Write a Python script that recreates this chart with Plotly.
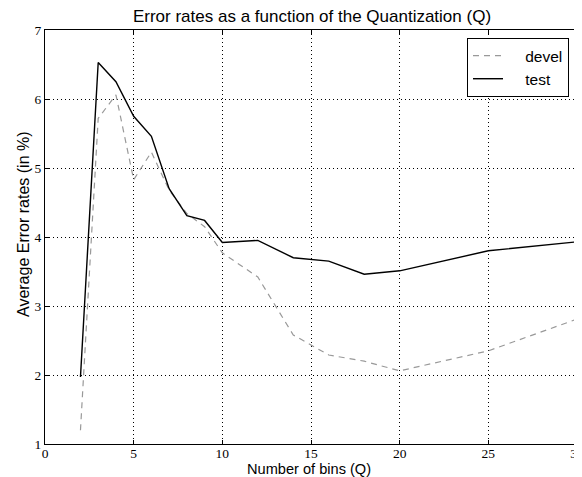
import plotly.graph_objects as go

bins = [2, 3, 4, 5, 6, 7, 8, 9, 10, 12, 14, 16, 18, 20, 25, 30]
devel = [1.2, 5.72, 6.06, 4.83, 5.23, 4.68, 4.34, 4.15, 3.77, 3.42, 2.58, 2.29, 2.20, 2.06, 2.35, 2.81]
test = [1.97, 6.53, 6.25, 5.75, 5.46, 4.70, 4.31, 4.24, 3.92, 3.95, 3.70, 3.65, 3.46, 3.51, 3.80, 3.93]

x_ticks = [0, 5, 10, 15, 20, 25, 30]
y_ticks = [1, 2, 3, 4, 5, 6, 7]
series_names = ["devel", "test"]

SANS = "Liberation Sans, Arial, Helvetica, sans-serif"
SERIF = "Liberation Serif, Times New Roman, serif"
GAP = "\u00a0" * 4  # extra room between legend line sample and its label

fig = go.Figure()
fig.add_trace(go.Scatter(x=bins, y=devel, mode="lines", name=GAP + series_names[0],
                         line=dict(color="#999999", width=1.2, dash="6px,5px")))
fig.add_trace(go.Scatter(x=bins, y=test, mode="lines", name=GAP + series_names[1],
                         line=dict(color="black", width=1.4)))

axis_common = dict(
    showline=True, linecolor="black", linewidth=1.3, mirror="ticks",
    ticks="inside", ticklen=4, tickcolor="black", tickwidth=1,
    showgrid=True, gridcolor="black", griddash="1px,3px", gridwidth=1,
    zeroline=False, automargin=False, ticklabeloverflow="allow",
    tickfont=dict(family=SERIF, size=13.5, color="black"),
)

# The page body has an 8px margin, so the figure is offset by (8, 8);
# size and margins are set so the plot area lands where the reference has it.
fig.update_layout(
    width=574, height=469,
    margin=dict(l=37, r=5, t=22, b=33, autoexpand=False),
    paper_bgcolor="white", plot_bgcolor="white",
    title=dict(text="Error rates as a function of the Quantization (Q)",
               x=(312 - 8) / 574, xanchor="center",
               y=1 - (16 - 8) / 469, yanchor="middle",
               font=dict(family=SANS, size=17, color="black")),
    xaxis=dict(range=[0, 30], tickvals=x_ticks, ticklabelstandoff=-3, **axis_common),
    yaxis=dict(range=[1, 7], tickvals=y_ticks, **axis_common),
    legend=dict(x=(569 - 45) / 532, y=(444 - 38) / 414, xanchor="right", yanchor="top",
                bgcolor="white", bordercolor="black", borderwidth=1,
                font=dict(family=SANS, size=15.5, color="black"),
                itemwidth=30, tracegroupgap=0),
    showlegend=True,
    annotations=[
        dict(text="Number of bins (Q)", xref="paper", yref="paper",
             x=(309 - 45) / 532, y=(444 - 469) / 414, xanchor="center", yanchor="middle",
             showarrow=False, font=dict(family=SANS, size=14.6, color="black")),
        dict(text="Average Error rates (in %)", xref="paper", yref="paper",
             x=(23 - 45) / 532, y=(444 - 224) / 414, xanchor="center", yanchor="middle",
             textangle=-90, showarrow=False, font=dict(family=SANS, size=16, color="black")),
    ],
)

fig.write_html("out.html")
